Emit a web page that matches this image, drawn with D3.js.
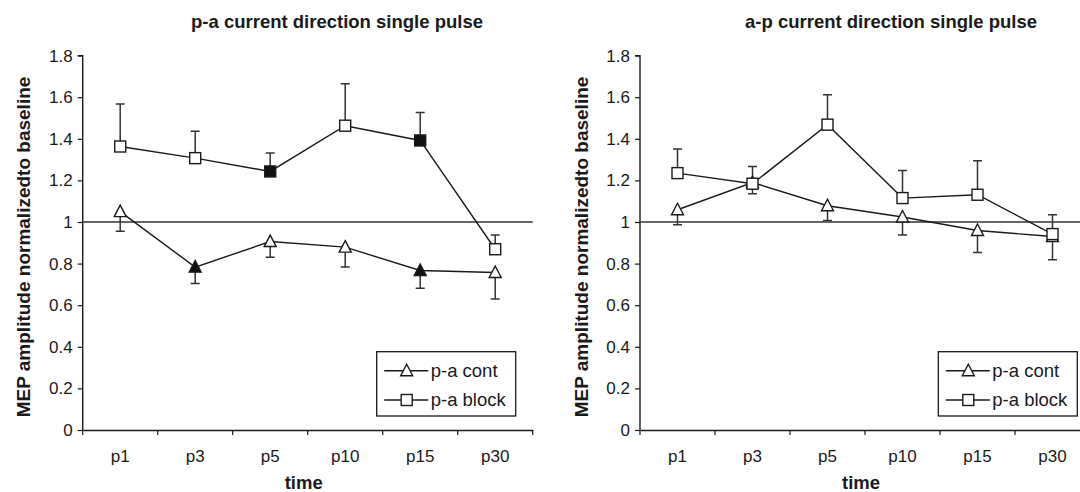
<!DOCTYPE html>
<html><head><meta charset="utf-8">
<script src="https://cdn.jsdelivr.net/npm/d3@7"></script>
<style>
body{margin:0;background:#fff;}
text{font-family:"Liberation Sans",Arial,sans-serif;fill:#1a1a1a;}
</style></head>
<body><svg id="chart" width="1080" height="492"></svg>
<script>
const categories = ["p1","p3","p5","p10","p15","p30"];
const yTickValues = [0,0.2,0.4,0.6,0.8,1,1.2,1.4,1.6,1.8];
const yTickLabels = ["0","0.2","0.4","0.6","0.8","1","1.2","1.4","1.6","1.8"];
const seriesNames = ["p-a cont","p-a block"];

// left panel: p-a current direction
const leftTitle = "p-a current direction single pulse";
const leftCont = [1.05, 0.783, 0.906, 0.879, 0.767, 0.757];
const leftContErr = [0.094, 0.079, 0.075, 0.095, 0.085, 0.127];
const leftContFilled = [false, true, false, false, true, false];
const leftBlock = [1.363, 1.307, 1.243, 1.463, 1.392, 0.869];
const leftBlockErr = [0.204, 0.129, 0.089, 0.202, 0.135, 0.069];
const leftBlockFilled = [false, false, true, false, true, false];

// right panel: a-p current direction
const rightTitle = "a-p current direction single pulse";
const rightCont = [1.059, 1.19, 1.078, 1.024, 0.959, 0.93];
const rightContErr = [0.072, 0.054, 0.071, 0.086, 0.106, 0.112];
const rightContFilled = [false, false, false, false, false, false];
const rightBlock = [1.235, 1.184, 1.468, 1.115, 1.131, 0.942];
const rightBlockErr = [0.116, 0.083, 0.144, 0.133, 0.163, 0.093];
const rightBlockFilled = [false, false, false, false, false, false];

const yLabel = "MEP amplitude normalizedto baseline";
const xLabel = "time";

const svg = d3.select("#chart");
const ink = "#1a1a1a";

function panel(opt){
  const g = svg.append("g");
  const x = d3.scaleBand().domain(categories).range([opt.x0, opt.x0 + 450]);
  const y = d3.scaleLinear().domain([0, 1.8]).range([430, 55.6]);
  const cx = c => x(c) + x.bandwidth()/2;

  // title
  g.append("text").attr("x", opt.titleX).attr("y", 27.5).attr("text-anchor","middle")
    .style("font-size","18.5px").style("font-weight","bold").text(opt.title);

  // y axis
  const ya = g.append("g").attr("transform",`translate(${opt.x0},0)`)
    .call(d3.axisLeft(y).tickValues(yTickValues).tickFormat((d,i)=>yTickLabels[i]).tickSize(5).tickPadding(5));
  ya.select(".domain").attr("stroke",ink).attr("stroke-width",1.4).attr("d",`M-5,${y(1.8)}H0V${y(0)}`);
  ya.selectAll(".tick line").attr("stroke",ink).attr("stroke-width",1.2);
  ya.selectAll(".tick text").style("font-size","17px").attr("fill",ink).attr("font-family","Liberation Sans, Arial, sans-serif");

  // x axis
  const xa = g.append("g").attr("transform",`translate(0,${y(0)})`)
    .call(d3.axisBottom(x).tickSize(0).tickPadding(20));
  xa.select(".domain").attr("stroke",ink).attr("stroke-width",1.4);
  xa.selectAll(".tick text").style("font-size","17px").attr("fill",ink).attr("font-family","Liberation Sans, Arial, sans-serif");
  const bounds = categories.map(c => x(c)).concat([x.range()[1]]);
  xa.selectAll("line.bt").data(bounds).join("line").attr("class","bt")
    .attr("x1",d=>d).attr("x2",d=>d).attr("y1",0).attr("y2",5).attr("stroke",ink).attr("stroke-width",1.2);

  // reference line at 1
  g.append("line").attr("x1",opt.x0).attr("x2",opt.refEnd).attr("y1",y(1)).attr("y2",y(1))
    .attr("stroke","#333").attr("stroke-width",1.5);

  // axis labels
  g.append("text").attr("transform",`translate(${opt.x0-59},247) rotate(-90)`).attr("text-anchor","middle")
    .attr("dy","0.35em").style("font-size","19px").style("font-weight","bold").text(yLabel);
  g.append("text").attr("x",opt.x0+221).attr("y",489).attr("text-anchor","middle")
    .style("font-size","18.5px").style("font-weight","bold").text(xLabel);

  const line = d3.line().x((d,i)=>cx(categories[i])).y(d=>y(d));

  // error bars
  function errBars(vals, errs, dir){
    g.selectAll(null).data(vals).join("path")
      .attr("d",(d,i)=>{const xx=cx(categories[i]); const y1=y(d), y2=y(d+dir*errs[i]);
        return `M${xx},${y1}V${y2}M${xx-4.5},${y2}H${xx+4.5}`;})
      .attr("stroke","#333").attr("stroke-width",1.5).attr("fill","none");
  }
  errBars(opt.block, opt.blockErr, 1);
  errBars(opt.cont, opt.contErr, -1);

  g.append("path").datum(opt.cont).attr("d",line).attr("fill","none").attr("stroke",ink).attr("stroke-width",1.4);
  g.append("path").datum(opt.block).attr("d",line).attr("fill","none").attr("stroke",ink).attr("stroke-width",1.4);

  const tri = "M0,-6.5L6,5L-6,5Z";
  g.selectAll(null).data(opt.cont).join("path")
    .attr("transform",(d,i)=>`translate(${cx(categories[i])},${y(d)})`)
    .attr("d",tri).attr("fill",(d,i)=>opt.contFilled[i]?"#111":"#fff").attr("stroke",ink).attr("stroke-width",1.4);
  g.selectAll(null).data(opt.block).join("rect")
    .attr("x",(d,i)=>cx(categories[i])-5.5).attr("y",d=>y(d)-5.5).attr("width",11).attr("height",11)
    .attr("fill",(d,i)=>opt.blockFilled[i]?"#111":"#fff").attr("stroke",ink).attr("stroke-width",1.4);

  // legend
  const lx = opt.legendX;
  const lg = g.append("g");
  lg.append("rect").attr("x",lx).attr("y",351.7).attr("width",139).attr("height",64.3)
    .attr("fill","#fff").attr("stroke",ink).attr("stroke-width",1.3);
  [370.7, 400].forEach((ly,k)=>{
    lg.append("line").attr("x1",lx+7.5).attr("x2",lx+51.5).attr("y1",ly).attr("y2",ly).attr("stroke",ink).attr("stroke-width",1.4);
    if(k===0){
      lg.append("path").attr("transform",`translate(${lx+30},${ly})`).attr("d",tri)
        .attr("fill","#fff").attr("stroke",ink).attr("stroke-width",1.4);
    } else {
      lg.append("rect").attr("x",lx+24.5).attr("y",ly-5.5).attr("width",11).attr("height",11)
        .attr("fill","#fff").attr("stroke",ink).attr("stroke-width",1.4);
    }
    lg.append("text").attr("x",lx+54).attr("y",ly).attr("dy","0.35em").style("font-size","18.5px").text(seriesNames[k]);
  });
}

panel({x0:82.7, title:leftTitle, titleX:337, refEnd:532.7, legendX:376.7,
  cont:leftCont, contErr:leftContErr, contFilled:leftContFilled,
  block:leftBlock, blockErr:leftBlockErr, blockFilled:leftBlockFilled});
panel({x0:640, title:rightTitle, titleX:891, refEnd:1080, legendX:938.3,
  cont:rightCont, contErr:rightContErr, contFilled:rightContFilled,
  block:rightBlock, blockErr:rightBlockErr, blockFilled:rightBlockFilled});
</script></body></html>
